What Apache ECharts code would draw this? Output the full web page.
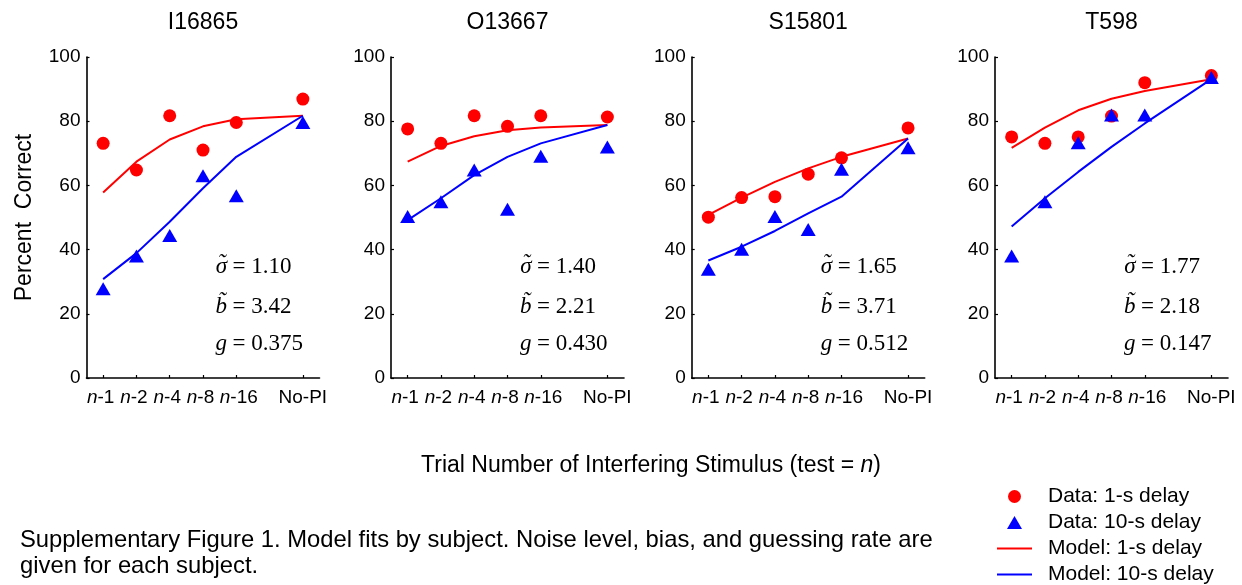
<!DOCTYPE html>
<html><head><meta charset="utf-8">
<script src="https://cdn.jsdelivr.net/npm/echarts@6/dist/echarts.min.js"></script>
<style>html,body{margin:0;padding:0;background:#fff}#c{width:1242px;height:585px}</style>
</head><body><div id="c"></div>
<script>
// ---- data ----
const subjects = ['I16865', 'O13667', 'S15801', 'T598'];
const xLabels = ['n-1', 'n-2', 'n-4', 'n-8', 'n-16', '', 'No-PI'];
const xPos = [0, 1, 2, 3, 4, 6];
const yTicks = [0, 20, 40, 60, 80, 100];

const dat1s_I16865 = [73.1, 64.8, 81.7, 71.0, 79.6, 86.9];
const dat10s_I16865 = [27.8, 38.0, 44.4, 63.0, 56.8, 79.6];
const mod1s_I16865 = [57.8, 67.4, 74.3, 78.4, 80.6, 81.7];
const mod10s_I16865 = [30.8, 38.9, 48.7, 59.1, 68.9, 81.7];

const dat1s_O13667 = [77.6, 73.1, 81.7, 78.4, 81.7, 81.3];
const dat10s_O13667 = [50.3, 54.9, 64.8, 52.6, 69.1, 72.0];
const mod1s_O13667 = [67.4, 72.3, 75.3, 77.2, 78.0, 78.8];
const mod10s_O13667 = [49.2, 56.0, 63.2, 68.9, 73.1, 78.8];

const dat1s_S15801 = [50.1, 56.2, 56.5, 63.5, 68.6, 77.9];
const dat10s_S15801 = [33.9, 40.1, 50.3, 46.3, 65.0, 71.7];
const mod1s_S15801 = [50.8, 56.2, 61.1, 65.3, 68.9, 74.6];
const mod10s_S15801 = [36.6, 40.9, 45.8, 51.3, 56.5, 74.6];

const dat1s_T598 = [75.1, 73.1, 75.1, 81.6, 92.0, 94.2];
const dat10s_T598 = [38.0, 54.9, 73.3, 81.9, 81.9, 93.6];
const mod1s_T598 = [71.7, 78.0, 83.4, 87.0, 89.4, 93.1];
const mod10s_T598 = [47.2, 56.0, 64.2, 72.0, 79.3, 93.1];

const sigmaVals = ['1.10', '1.40', '1.65', '1.77'];
const bVals = ['3.42', '2.21', '3.71', '2.18'];
const gVals = ['0.375', '0.430', '0.512', '0.147'];

const seriesNames = ['Data: 1-s delay', 'Data: 10-s delay', 'Model: 1-s delay', 'Model: 10-s delay'];

// ---- layout ----
const gridLefts = [86.5, 391, 691.7, 995];
const gridW = 233, gridTop = 57, gridH = 321;
const SANS = 'Liberation Sans, Arial, sans-serif';
const SERIF = 'Liberation Serif, Times New Roman, serif';
const RED = '#ff0000', BLUE = '#0000ff';

const panels = [
  [dat1s_I16865, dat10s_I16865, mod1s_I16865, mod10s_I16865],
  [dat1s_O13667, dat10s_O13667, mod1s_O13667, mod10s_O13667],
  [dat1s_S15801, dat10s_S15801, mod1s_S15801, mod10s_S15801],
  [dat1s_T598, dat10s_T598, mod1s_T598, mod10s_T598]
];

const pairs = arr => arr.map((v, i) => [xPos[i], v]);

const grid = [], xAxis = [], yAxis = [], series = [], title = [], graphic = [];
subjects.forEach((s, k) => {
  grid.push({ left: gridLefts[k], top: gridTop, width: gridW, height: gridH, containLabel: false });
  title.push({
    text: s, left: gridLefts[k] + gridW / 2, top: 11, textAlign: 'center', padding: 0,
    textStyle: { fontFamily: SANS, fontSize: 23, fontWeight: 'normal', color: '#000' }
  });
  xAxis.push({
    type: 'category', gridIndex: k, data: xLabels, boundaryGap: true,
    axisLine: { lineStyle: { color: '#000', width: 1.6 } },
    axisTick: { show: true, inside: true, length: 3, alignWithLabel: true,
      interval: (i, v) => v !== '', lineStyle: { color: '#000', width: 1.2 } },
    axisLabel: {
      interval: 0, margin: 10, color: '#000', fontFamily: SANS, fontSize: 19,
      formatter: v => {
        if (!v.startsWith('n-')) return v;
        return v === 'n-16' ? '{p|}{i|n}{t|' + v.slice(1) + '}' : '{i|n}{t|' + v.slice(1) + '}{p|}';
      },
      rich: {
        i: { fontStyle: 'italic', fontFamily: SANS, fontSize: 19, color: '#000' },
        t: { fontFamily: SANS, fontSize: 19, color: '#000' },
        p: { width: 5, fontSize: 19 }
      }
    },
    splitLine: { show: false }
  });
  yAxis.push({
    type: 'value', gridIndex: k, min: 0, max: 100, interval: 20,
    name: k === 0 ? 'Percent  Correct' : '', nameLocation: 'middle', nameGap: 50,
    nameTextStyle: { fontFamily: SANS, fontSize: 23, color: '#000' },
    axisLine: { show: true, lineStyle: { color: '#000', width: 1.6 } },
    axisTick: { show: true, inside: true, length: 3, lineStyle: { color: '#000', width: 1.2 } },
    axisLabel: { margin: 6, color: '#000', fontFamily: SANS, fontSize: 19 },
    splitLine: { show: false }
  });
  const d = panels[k];
  series.push({ name: seriesNames[2], type: 'line', xAxisIndex: k, yAxisIndex: k, data: pairs(d[2]),
    showSymbol: false, lineStyle: { color: RED, width: 2 }, itemStyle: { color: RED }, z: 2, silent: true });
  series.push({ name: seriesNames[3], type: 'line', xAxisIndex: k, yAxisIndex: k, data: pairs(d[3]),
    showSymbol: false, lineStyle: { color: BLUE, width: 2 }, itemStyle: { color: BLUE }, z: 2, silent: true });
  series.push({ name: seriesNames[0], type: 'scatter', xAxisIndex: k, yAxisIndex: k, data: pairs(d[0]),
    symbol: 'circle', symbolSize: 13, itemStyle: { color: RED, opacity: 1 }, z: 3, silent: true });
  series.push({ name: seriesNames[1], type: 'scatter', xAxisIndex: k, yAxisIndex: k, data: pairs(d[1]),
    symbol: 'triangle', symbolSize: [15, 13], itemStyle: { color: BLUE, opacity: 1 }, z: 4, silent: true });

  // parameter annotations
  const symRight = gridLefts[k] + 140.5, eqLeft = gridLefts[k] + 146;
  const rows = [
    ['\u03C3', sigmaVals[k], 267],
    ['b\u0303', bVals[k], 307],
    ['g', gVals[k], 344]
  ];
  rows.forEach((r, j) => {
    graphic.push({ type: 'text', x: symRight, y: r[2], style: {
      text: r[0], fill: '#000', font: 'italic 23px ' + SERIF, textAlign: 'right', textVerticalAlign: 'middle' } });
    graphic.push({ type: 'text', x: eqLeft, y: r[2], style: {
      text: '= ' + r[1], fill: '#000', font: '23px ' + SERIF, textAlign: 'left', textVerticalAlign: 'middle' } });
    if (j === 0) {
      graphic.push({ type: 'text', x: symRight - 5.5, y: r[2] - 3, style: {
        text: '\u02DC', fill: '#000', font: 'italic 23px ' + SERIF, textAlign: 'center', textVerticalAlign: 'middle' } });
    }
  });
});

// x-axis common name
graphic.push({ type: 'text', x: 651, y: 466, style: {
  rich: { i: { fontStyle: 'italic', fontFamily: SANS, fontSize: 23, fill: '#000' } },
  text: 'Trial Number of Interfering Stimulus (test = {i|n})', fill: '#000',
  font: '23px ' + SANS, textAlign: 'center', textVerticalAlign: 'middle' } });
// caption
graphic.push({ type: 'text', x: 20, y: 540, style: {
  text: 'Supplementary Figure 1. Model fits by subject. Noise level, bias, and guessing rate are',
  fill: '#000', font: '23.8px ' + SANS, textAlign: 'left', textVerticalAlign: 'middle' } });
graphic.push({ type: 'text', x: 20, y: 566, style: {
  text: 'given for each subject.',
  fill: '#000', font: '23.8px ' + SANS, textAlign: 'left', textVerticalAlign: 'middle' } });

const option = {
  backgroundColor: '#fff',
  animation: false,
  title, grid, xAxis, yAxis, series, graphic,
  legend: {
    orient: 'vertical', left: 997, top: 486, padding: 0, itemGap: 5,
    itemWidth: 35, itemHeight: 13, selectedMode: false, symbolKeepAspect: true,
    textStyle: { fontFamily: SANS, fontSize: 21, color: '#000', lineHeight: 21, padding: [0, 0, 0, 11] },
    data: [
      { name: seriesNames[0], icon: 'circle', itemStyle: { color: RED } },
      { name: seriesNames[1], icon: 'path://M7.5,0 L15,13 L0,13 Z', itemStyle: { color: BLUE } },
      { name: seriesNames[2], icon: 'path://M0,0 H36 V2 H0 Z', itemStyle: { color: RED } },
      { name: seriesNames[3], icon: 'path://M0,0 H36 V2 H0 Z', itemStyle: { color: BLUE } }
    ]
  }
};
const chart = echarts.init(document.getElementById('c'), null, { renderer: 'canvas' });
chart.setOption(option);
</script></body></html>
